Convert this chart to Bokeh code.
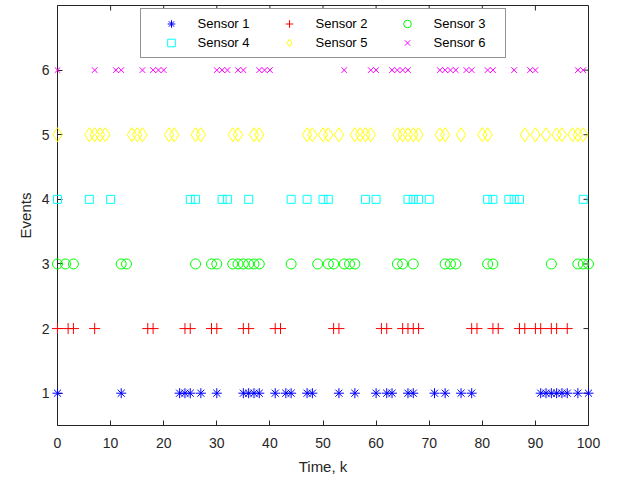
import math
from bokeh.plotting import figure
from bokeh.models import ColumnDataSource, Range1d, FixedTicker, Legend, LegendItem
from bokeh.embed import file_html
from bokeh.resources import INLINE

sensor1 = [0, 12, 23, 24, 25, 27, 30, 35, 36, 37, 38, 41, 43, 44, 47, 48,
           53, 56, 60, 62, 63, 66, 67, 71, 73, 76, 78, 91, 92, 93, 94, 95, 96, 98, 100]
sensor2 = [0, 2, 3, 7, 17, 18, 24, 25, 29, 30, 35, 36, 41, 42, 52, 53, 61, 62,
           65, 66, 67, 68, 78, 79, 82, 83, 87, 88, 90, 91, 93, 94, 96]
sensor3 = [0, 1.5, 3, 12, 13, 26, 29, 30, 33, 34, 35, 36, 37, 38, 44, 49, 51, 52,
           54, 55, 56, 64, 65, 67, 73, 74, 75, 81, 82, 93, 98, 99, 100]
sensor4 = [0, 6, 10, 25, 26, 31, 32, 36, 44, 47, 50, 51, 58, 60, 66, 67, 68, 70,
           81, 82, 85, 86, 87, 99]
sensor5 = [0, 6, 7, 8, 9, 14, 15, 16, 21, 22, 26, 27, 33, 34, 37, 38, 47, 48, 50, 51,
           53, 56, 57, 58, 59, 64, 65, 66, 67, 68, 72, 73, 76, 80, 81, 88, 90, 92, 94,
           95, 97, 98, 99]
sensor6 = [0, 7, 11, 12, 16, 18, 19, 20, 30, 31, 32, 34, 35, 38, 39, 40, 54, 59, 60,
           63, 64, 65, 66, 72, 73, 74, 75, 77, 78, 81, 82, 86, 89, 90, 98, 99]

series = [
    ("Sensor 1", sensor1, 1, "asterisk", "#0000ff", 10),
    ("Sensor 2", sensor2, 2, "cross", "#ff0000", 11),
    ("Sensor 3", sensor3, 3, "circle", "#00ff00", 10),
    ("Sensor 4", sensor4, 4, "square", "#00ffff", 8),
    ("Sensor 5", sensor5, 5, "diamond", "#ffff00", 14),
    ("Sensor 6", sensor6, 6, "x", "#ff00ff", 8),
]

x_ticks = list(range(0, 101, 10))
y_ticks = [1, 2, 3, 4, 5, 6]
X_MIN, X_MAX = 0, 100
Y_MIN, Y_MAX = 0.5, 7.0

FONT = "Liberation Sans"
AXC = "#262626"

p = figure(width=620, height=479, output_backend="svg", toolbar_location=None,
           x_range=Range1d(X_MIN, X_MAX), y_range=Range1d(Y_MIN, Y_MAX),
           min_border_left=57, min_border_right=32, min_border_top=5, min_border_bottom=54)
p.outline_line_color = AXC
p.outline_line_width = 1
p.grid.visible = False
p.background_fill_color = "white"
p.border_fill_color = "white"

for ax in (p.xaxis[0], p.yaxis[0]):
    ax.major_tick_in = 5
    ax.major_tick_out = 0
    ax.minor_tick_line_color = None
    ax.axis_line_color = AXC
    ax.major_tick_line_color = AXC
    ax.major_label_text_font = FONT
    ax.major_label_text_font_size = "14px"
    ax.major_label_text_color = AXC
    ax.axis_label_text_font = FONT
    ax.axis_label_text_font_size = "15px"
    ax.axis_label_text_font_style = "normal"
    ax.axis_label_text_color = AXC

p.xaxis[0].ticker = FixedTicker(ticks=x_ticks)
p.yaxis[0].ticker = FixedTicker(ticks=y_ticks)
p.xaxis[0].axis_label = "Time, k"
p.yaxis[0].axis_label = "Events"
p.xaxis[0].major_label_standoff = 12
p.xaxis[0].axis_label_standoff = 7
p.yaxis[0].major_label_standoff = 8
p.yaxis[0].axis_label_standoff = 5

# mirrored tick marks on top and right edges (box on)
p.ray(x=x_ticks, y=[Y_MAX] * len(x_ticks), length=5, angle=-math.pi / 2,
      length_units="screen", line_color=AXC, line_width=1)
p.ray(x=[X_MAX] * len(y_ticks), y=y_ticks, length=5, angle=math.pi,
      length_units="screen", line_color=AXC, line_width=1)

items = []
for name, xs, level, marker, color, size in series:
    src = ColumnDataSource(dict(x=xs, y=[level] * len(xs)))
    r = p.scatter("x", "y", source=src, marker=marker, size=size,
                  line_color=color, fill_color=None, line_width=1, level="overlay")
    items.append(LegendItem(label=name, renderers=[r]))

legend = Legend(items=items, ncols=3, orientation="horizontal", location="top_center",
                label_text_font=FONT, label_text_font_size="13px",
                label_text_color="#000000", border_line_color=AXC,
                background_fill_alpha=1.0, glyph_width=50, glyph_height=19,
                label_height=19, spacing=0, padding=5, margin=3,
                label_standoff=2, label_width=66)
p.add_layout(legend)

open("out.html", "w").write(file_html(p, INLINE))
